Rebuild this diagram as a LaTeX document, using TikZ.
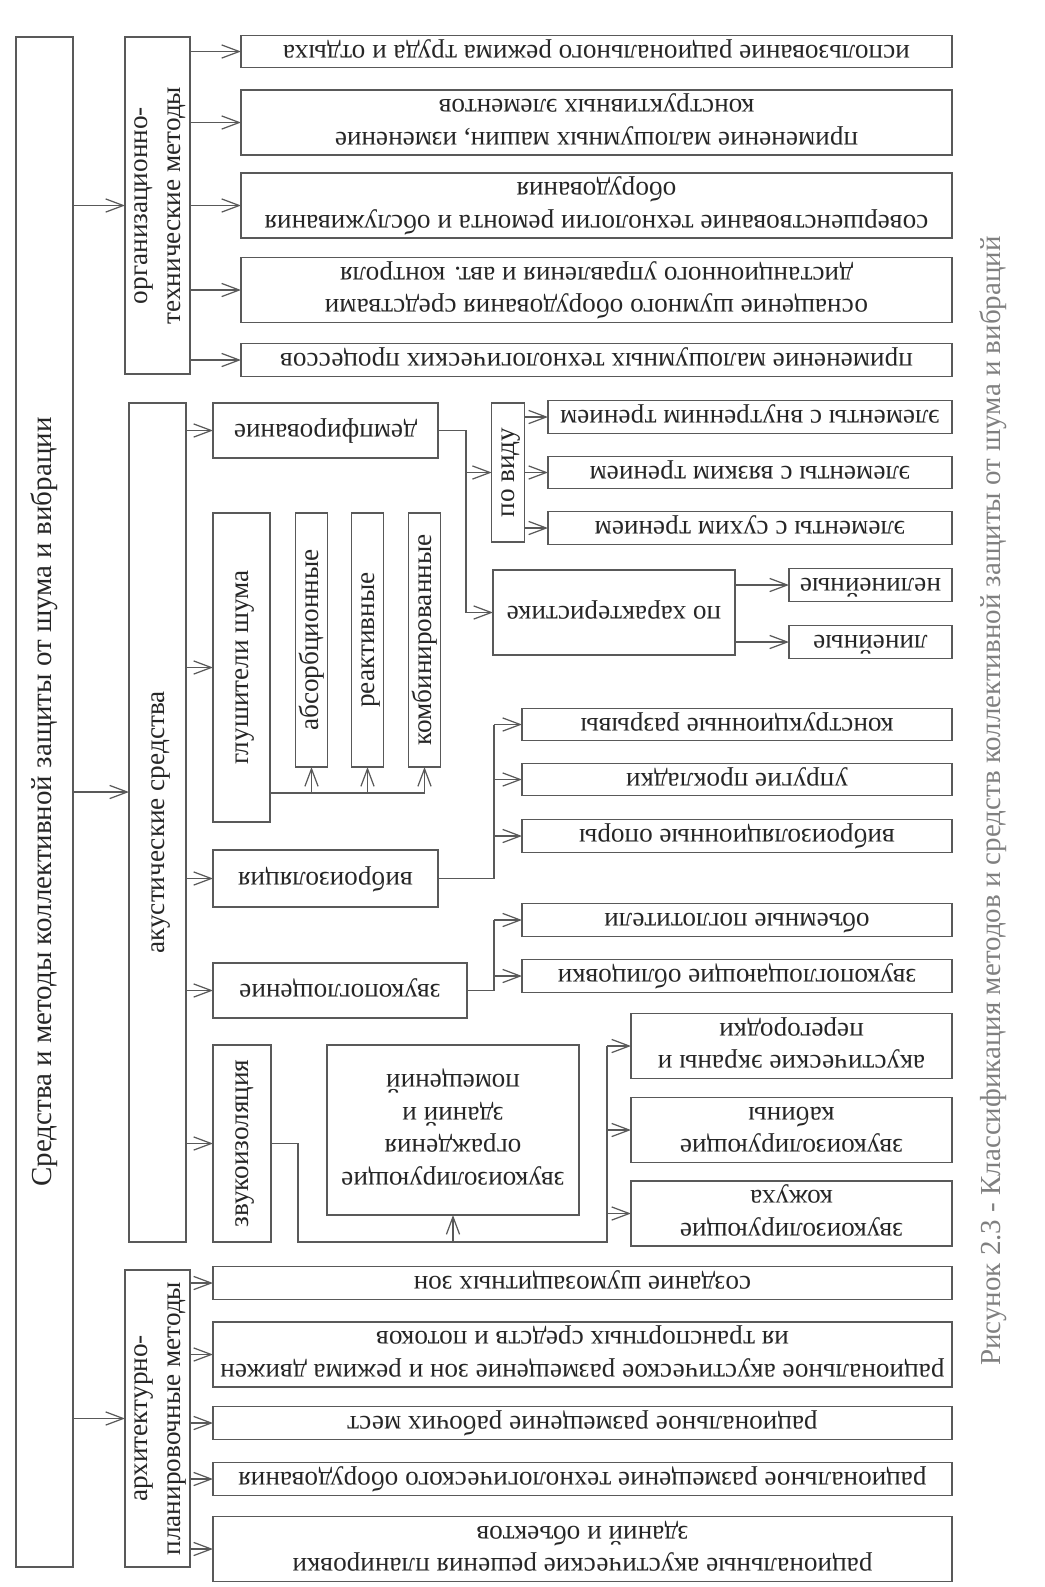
\documentclass[tikz,border=0pt]{standalone}
\usepackage{graphicx}
\usepackage{fontspec}
\setmainfont{Liberation Serif}
\usetikzlibrary{arrows.meta}

\newcommand\pxu{0.02cm}
% text turned upside down / turned to read upwards
\newcommand\ud[1]{\rotatebox[origin=c]{180}{\begin{tabular}{@{}c@{}}#1\end{tabular}}}
\newcommand\up[1]{\rotatebox[origin=c]{90}{\begin{tabular}{@{}c@{}}#1\end{tabular}}}

\begin{document}
\begin{tikzpicture}[
    x=\pxu, y=-\pxu,
    >={Straight Barb[length=10pt, width=7.5pt]},
    box/.style={draw=black!65, line width=0.7pt, inner sep=0pt, outer sep=0pt, text=black!85, font=\fontsize{15.5}{18.5}\selectfont},
    sz/.style 2 args={minimum width=#1*\pxu, minimum height=#2*\pxu},
    link/.style={draw=black!65, line width=0.7pt},
    arr/.style={link, ->}
]

\useasboundingbox (0,0) rectangle (1045,1587);

% Root and categories
\node[box, sz={57}{1530}, font=\fontsize{16.5}{19}\selectfont] (root) at (44.5,802) {\up{Средства и методы коллективной защиты от шума и вибрации}};
\node[box, sz={57}{337}] (orgt) at (157.5,205.5) {\up{организационно-\\технические методы}};
\node[box, sz={57}{839}] (ak) at (157.5,822.5) {\up{акустические средства}};
\node[box, sz={57}{297}] (arch) at (157.5,1418.5) {\up{архитектурно-\\планировочные методы}};

% Organisational-technical methods
\node[box, sz={711}{29}] (o1) at (596.5,51.5) {\ud{использование рационального режима труда и отдыха}};
\node[box, sz={711}{55}] (o2) at (596.5,122.5) {\ud{применение малошумных машин, изменение\\конструктивных элементов}};
\node[box, sz={711}{55}] (o3) at (596.5,205.5) {\ud{совершенствование технологии ремонта и обслуживания\\оборудования}};
\node[box, sz={711}{56}] (o4) at (596.5,290) {\ud{оснащение шумного оборудования средствами\\дистанционного управления и авт. контроля}};
\node[box, sz={711}{28}] (o5) at (596.5,360) {\ud{применение малошумных технологических процессов}};

% Acoustic means
\node[box, sz={225}{55}] (demp) at (325.5,430.5) {\ud{демпфирование}};
\node[box, sz={57}{309}] (glush) at (241.5,667.5) {\up{глушители шума}};
\node[box, sz={29}{254}] (absb) at (311.5,640) {\up{абсорбционные}};
\node[box, sz={29}{254}] (reac) at (367.5,640) {\up{реактивные}};
\node[box, sz={29}{254}] (comb) at (424.5,640) {\up{комбинированные}};
\node[box, sz={225}{57}] (vibro) at (325.5,878.5) {\ud{виброизоляция}};
\node[box, sz={254}{55}] (zvp) at (340,990.5) {\ud{звукопоглощение}};
\node[box, sz={58}{197}] (zvi) at (242,1143.5) {\up{звукоизоляция}};
\node[box, sz={252}{170}] (ogr) at (453,1130) {\ud{звукоизолирующие\\ограждения\\зданий и\\помещений}};

% Damping
\node[box, sz={30}{139}] (vid) at (508,472.5) {\up{по виду}};
\node[box, sz={242}{85}] (char) at (614,612.5) {\ud{по характеристике}};
\node[box, sz={404}{28}] (e1) at (750,417) {\ud{элементы с внутренним трением}};
\node[box, sz={404}{28}] (e2) at (750,472.5) {\ud{элементы с вязким трением}};
\node[box, sz={404}{28}] (e3) at (750,528) {\ud{элементы с сухим трением}};
\node[box, sz={163}{28}] (nel) at (870.5,585) {\ud{нелинейные}};
\node[box, sz={163}{28}] (lin) at (870.5,642) {\ud{линейные}};

% Vibration isolation
\node[box, sz={430}{28}] (kr) at (737,724.5) {\ud{конструкционные разрывы}};
\node[box, sz={430}{28}] (upr) at (737,779.5) {\ud{упругие прокладки}};
\node[box, sz={430}{28}] (opor) at (737,836) {\ud{виброизоляционные опоры}};

% Sound absorption
\node[box, sz={430}{28}] (obm) at (737,920) {\ud{объемные поглотители}};
\node[box, sz={430}{28}] (obl) at (737,976) {\ud{звукопоглощающие облицовки}};

% Sound insulation
\node[box, sz={321}{56}] (ekr) at (791.5,1046) {\ud{акустические экраны и\\перегородки}};
\node[box, sz={321}{56}] (kab) at (791.5,1130) {\ud{звукоизолирующие\\кабины}};
\node[box, sz={321}{56}] (koj) at (791.5,1213.5) {\ud{звукоизолирующие\\кожуха}};

% Architectural-planning methods
\node[box, sz={739}{28}] (a1) at (582.5,1283) {\ud{создание шумозащитных зон}};
\node[box, sz={739}{57}] (a2) at (582.5,1354.5) {\ud{рациональное акустическое размещение зон и режима движен\\ия транспортных средств и потоков}};
\node[box, sz={739}{28}] (a3) at (582.5,1423) {\ud{рациональное размещение рабочих мест}};
\node[box, sz={739}{28}] (a4) at (582.5,1479) {\ud{рациональное размещение технологического оборудования}};
\node[box, sz={739}{56}] (a5) at (582.5,1549) {\ud{рациональные акустические решения планировки\\зданий и объектов}};

% Caption
\node[font=\fontsize{16.5}{19}\selectfont, text=black!50] (cap) at (994,801) {\up{Рисунок 2.3 - Классификация методов и средств коллективной защиты от шума и вибраций}};

% Root -> categories
\coordinate (akin) at (129,792);
\draw[arr] (root.east |- orgt.west) -- (orgt.west);
\draw[arr] (root.east |- akin) -- (akin);
\draw[arr] (root.east |- arch.west) -- (arch.west);

% Categories -> items
\foreach \n in {o1,o2,o3,o4,o5}
    \draw[arr] (orgt.east |- \n.west) -- (\n.west);
\foreach \n in {demp,glush,vibro,zvp,zvi}
    \draw[arr] (ak.east |- \n.west) -- (\n.west);
\foreach \n in {a1,a2,a3,a4,a5}
    \draw[arr] (arch.east |- \n.west) -- (\n.west);

% Silencers
\coordinate (gbus) at (0,793);
\draw[link] (glush.east |- gbus) -- (gbus -| comb.south);
\foreach \n in {absb,reac,comb}
    \draw[arr] (gbus -| \n.south) -- (\n.south);

% Damping branches
\coordinate (dsplit) at (466,0);
\draw[arr] (demp.east) -| (dsplit |- char.west) -- (char.west);
\draw[arr] (dsplit |- vid.west) -- (vid.west);
\foreach \n in {e1,e2,e3}
    \draw[arr] (vid.east |- \n.west) -- (\n.west);
\foreach \n in {nel,lin}
    \draw[arr] (char.east |- \n.west) -- (\n.west);

% Vibration isolation and absorption branches
\coordinate (vsplit) at (494,0);
\draw[link] (vibro.east) -| (vsplit |- kr.west);
\foreach \n in {kr,upr,opor}
    \draw[arr] (vsplit |- \n.west) -- (\n.west);
\draw[link] (zvp.east) -| (vsplit |- obm.west);
\foreach \n in {obm,obl}
    \draw[arr] (vsplit |- \n.west) -- (\n.west);

% Sound insulation branches
\coordinate (zbus) at (298,1242);
\coordinate (zsplit) at (607,0);
\draw[link] (zvi.east) -| (zbus) -| (zsplit |- ekr.west);
\draw[arr] (zbus -| ogr.south) -- (ogr.south);
\foreach \n in {ekr,kab,koj}
    \draw[arr] (zsplit |- \n.west) -- (\n.west);

\end{tikzpicture}
\end{document}
